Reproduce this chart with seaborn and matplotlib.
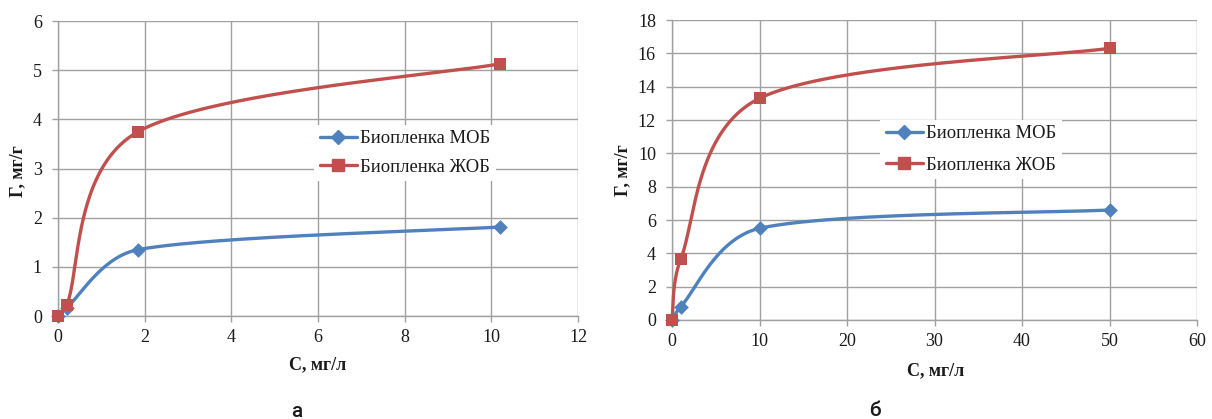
import numpy as np
import pandas as pd
import matplotlib
matplotlib.use("Agg")
import matplotlib.pyplot as plt
from matplotlib.lines import Line2D
import seaborn as sns

# Panel "а": concentration C (mg/L) and adsorption Г (mg/g)
c_a = [0.0, 0.2, 1.85, 10.2]
mob_a = [0.0, 0.17, 1.35, 1.81]
zhob_a = [0.0, 0.22, 3.75, 5.13]

# Panel "б"
c_b = [0.0, 1.0, 10.0, 50.0]
mob_b = [0.0, 0.8, 5.5, 6.6]
zhob_b = [0.0, 3.65, 13.3, 16.3]

series_names = ["Биопленка МОБ", "Биопленка ЖОБ"]
x_label = "С, мг/л"
y_label = "Г, мг/г"
panel_labels = ["а", "б"]

BLUE = "#4F81BD"
RED = "#C0504D"
GRID = "#A0A0A0"
W, H = 1212, 419

sns.set_style("white")
plt.rcParams["font.family"] = ["Liberation Serif", "DejaVu Serif"]


def bezier_smooth(xs, ys, sx, sy, n=80, clamp=0.4):
    """Smooth cubic Bezier curve through the points, built in screen scale."""
    pts = np.column_stack([np.asarray(xs) * sx, np.asarray(ys) * sy])
    P = np.vstack([pts[0], pts, pts[-1]])
    t = np.linspace(0, 1, n)[:, None]

    def ctrl(vec, seg):
        L = np.hypot(*vec)
        lim = clamp * np.hypot(*seg)
        return vec * (lim / L) if L > lim and L > 0 else vec

    segs = []
    for i in range(1, len(P) - 2):
        p0, p1, p2, p3 = P[i - 1], P[i], P[i + 1], P[i + 2]
        c1 = p1 + ctrl((p2 - p0) / 6.0, p2 - p1)
        c2 = p2 - ctrl((p3 - p1) / 6.0, p2 - p1)
        b = (1 - t) ** 3 * p1 + 3 * (1 - t) ** 2 * t * c1 + 3 * (1 - t) * t ** 2 * c2 + t ** 3 * p2
        segs.append(b)
    out = np.vstack(segs)
    return out[:, 0] / sx, out[:, 1] / sy


fig = plt.figure(figsize=(W / 100, H / 100), dpi=100)

panels = [
    dict(box=(58, 21, 578, 316), c=c_a, mob=mob_a, zhob=zhob_a,
         xlim=(0, 12), xstep=2, ylim=(0, 6), ystep=1,
         legend=(314, 153), lspace=0.62, ylab=(18, 171), xlab=(318, 365), plab=(297, 411)),
    dict(box=(672, 20, 1197, 320), c=c_b, mob=mob_b, zhob=zhob_b,
         xlim=(0, 60), xstep=10, ylim=(0, 18), ystep=2,
         legend=(880, 149.5), lspace=0.78, ylab=(623, 170), xlab=(936, 371), plab=(875, 410)),
]

for k, p in enumerate(panels):
    x0, y0, x1, y1 = p["box"]
    ax = fig.add_axes([x0 / W, 1 - y1 / H, (x1 - x0) / W, (y1 - y0) / H])
    sx = (x1 - x0) / (p["xlim"][1] - p["xlim"][0])
    sy = (y1 - y0) / (p["ylim"][1] - p["ylim"][0])

    for vals, color, marker, ms in [(p["mob"], BLUE, "D", 7.5), (p["zhob"], RED, "s", 8.5)]:
        xs, ys = bezier_smooth(p["c"], vals, sx, sy)
        df = pd.DataFrame({"x": xs, "y": ys})
        sns.lineplot(data=df, x="x", y="y", ax=ax, color=color, lw=2.4, sort=False,
                     estimator=None, zorder=3, clip_on=False)
        pts = pd.DataFrame({"x": p["c"], "y": vals})
        sns.scatterplot(data=pts, x="x", y="y", ax=ax, color=color, marker=marker,
                        s=ms ** 2, linewidth=0, zorder=4, clip_on=False)

    ax.set_xlim(*p["xlim"])
    ax.set_ylim(*p["ylim"])
    ax.set_xticks(np.arange(p["xlim"][0], p["xlim"][1] + 0.01, p["xstep"]))
    ax.set_yticks(np.arange(p["ylim"][0], p["ylim"][1] + 0.01, p["ystep"]))
    ax.grid(True, color=GRID, lw=1.0)
    ax.set_axisbelow(True)
    for side in ["top", "right"]:
        ax.spines[side].set_visible(False)
    for side in ["left", "bottom"]:
        ax.spines[side].set_color(GRID)
        ax.spines[side].set_linewidth(1.0)
    ax.tick_params(axis="both", which="both", direction="out", length=4.5, width=1.0,
                   color=GRID, labelsize=13, left=True, bottom=True, labelcolor="#1a1a1a")
    ax.tick_params(axis="y", pad=7)
    ax.tick_params(axis="x", pad=5)
    ax.set_xlabel("")
    ax.set_ylabel("")

    handles = [
        Line2D([], [], color=BLUE, lw=2.4, marker="D", ms=7.5, mec=BLUE),
        Line2D([], [], color=RED, lw=2.4, marker="s", ms=8.5, mec=RED),
    ]
    leg = ax.legend(handles, series_names, loc="center left",
                    bbox_to_anchor=(p["legend"][0] / W, 1 - p["legend"][1] / H),
                    bbox_transform=fig.transFigure,
                    frameon=True, fontsize=13.4, handlelength=2.0, handletextpad=0.18,
                    labelspacing=p["lspace"], borderpad=0.3, borderaxespad=0)
    leg.get_frame().set_facecolor("white")
    leg.get_frame().set_edgecolor("none")
    leg.get_frame().set_alpha(1.0)
    leg.get_frame().set_boxstyle("square", pad=0)
    for txt in leg.get_texts():
        txt.set_color("#1a1a1a")

    fig.text(p["ylab"][0] / W, 1 - p["ylab"][1] / H, y_label, rotation=90, ha="center",
             va="center", fontsize=13, fontweight="bold", color="#1a1a1a")
    fig.text(p["xlab"][0] / W, 1 - p["xlab"][1] / H, x_label, ha="center", va="center",
             fontsize=13, fontweight="bold", color="#1a1a1a")
    fig.text(p["plab"][0] / W, 1 - p["plab"][1] / H, panel_labels[k], ha="center",
             va="center", fontsize=15, family=["Roboto", "DejaVu Sans"],
             fontweight="medium", color="#1a1a1a")

fig.savefig("out.png", dpi=100)
